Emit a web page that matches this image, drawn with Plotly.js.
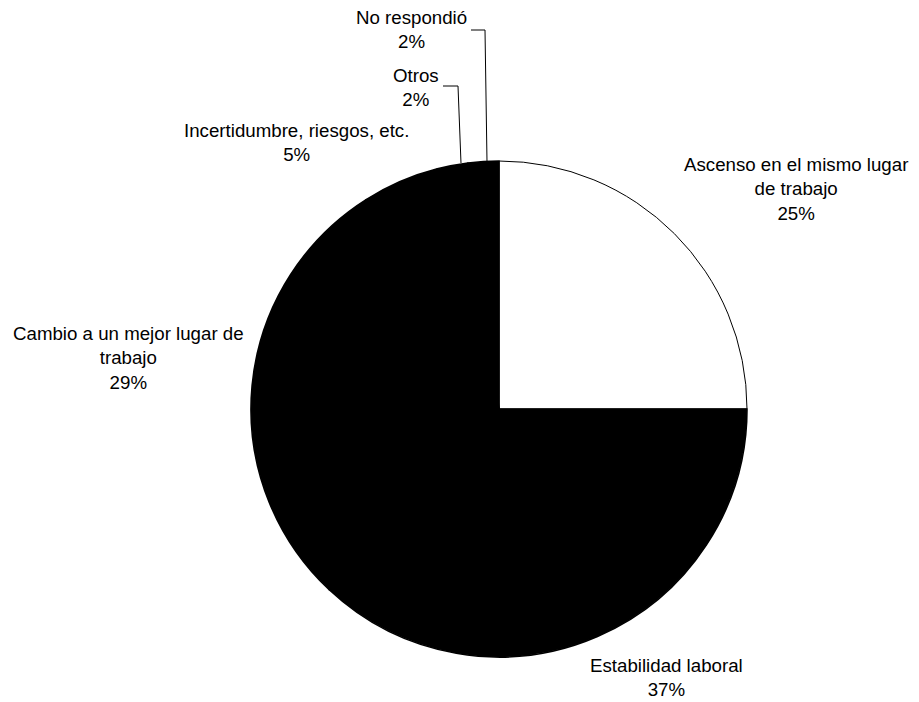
<!DOCTYPE html>
<html>
<head>
<meta charset="utf-8">
<script src="https://cdn.plot.ly/plotly-3.0.1.min.js"></script>
<style>html,body{margin:0;padding:0;background:#fff;}#chart{width:919px;height:702px;}</style>
</head>
<body>
<div id="chart"></div>
<script>
const categories = ["Ascenso en el mismo lugar<br>de trabajo", "Estabilidad laboral", "Cambio a un mejor lugar de<br>trabajo", "Incertidumbre, riesgos, etc.", "Otros", "No respondió"];
const values = [25, 37, 29, 5, 2, 2];
const sliceColors = ["#ffffff", "#000000", "#000000", "#000000", "#000000", "#000000"];

const W = 919, H = 702;
const px = x => x / W;
const py = y => 1 - y / H;

// label positions (pixel centres)
const labelPos = [[796, 189], [666, 677], [128, 358], [296, 142], [416, 87], [411, 30]];

const total = values.reduce((a, b) => a + b, 0);
const annotations = categories.map((c, i) => ({
  text: c + "<br>" + Math.round(values[i] / total * 100) + "%",
  x: px(labelPos[i][0]), y: py(labelPos[i][1]),
  xref: "paper", yref: "paper", xanchor: "center", yanchor: "middle",
  showarrow: false, align: "center",
  font: {family: "Liberation Sans, Arial, sans-serif", size: 18.7, color: "#000"}
}));

function pathPx(pts) {
  return pts.map((p, i) => (i ? "L" : "M") + px(p[0]).toFixed(5) + "," + py(p[1]).toFixed(5)).join(" ");
}
const shapes = [
  {type: "path", xref: "paper", yref: "paper", path: pathPx([[461, 163], [458, 86], [443, 86]]), line: {color: "#000", width: 1}},
  {type: "path", xref: "paper", yref: "paper", path: pathPx([[487, 161], [485, 30], [471, 30]]), line: {color: "#000", width: 1}}
];

const data = [{
  type: "pie",
  labels: categories,
  values: values,
  sort: false,
  direction: "clockwise",
  rotation: 0,
  marker: {colors: sliceColors, line: {color: "#000", width: [1, 1.6, 1.6, 1.6, 1.6, 1.6]}},
  textinfo: "none",
  hoverinfo: "none",
  showlegend: false,
  domain: {x: [px(251), px(747)], y: [py(657), py(161)]}
}];

const layout = {
  width: W, height: H,
  margin: {l: 0, r: 0, t: 0, b: 0},
  paper_bgcolor: "#fff",
  showlegend: false,
  annotations: annotations,
  shapes: shapes
};

Plotly.newPlot("chart", data, layout, {displayModeBar: false, staticPlot: true});
</script>
</body>
</html>
